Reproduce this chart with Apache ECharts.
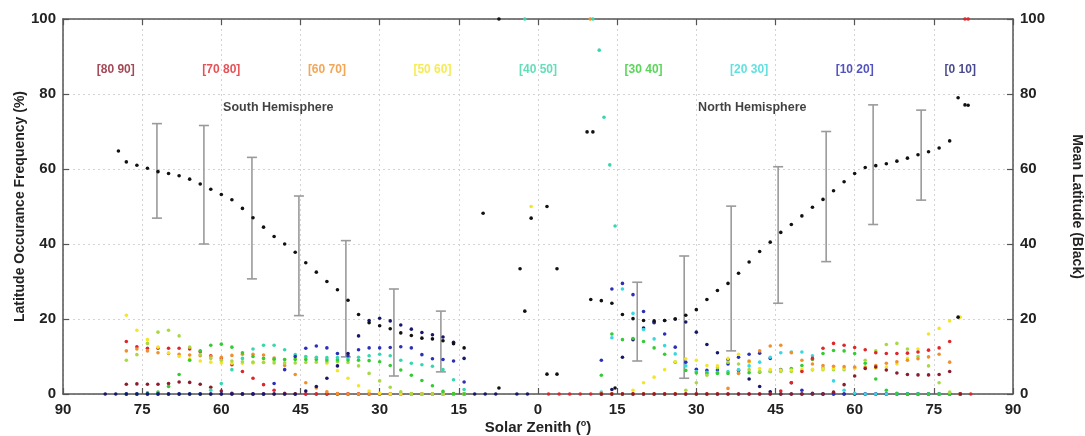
<!DOCTYPE html>
<html><head><meta charset="utf-8">
<script src="https://cdn.jsdelivr.net/npm/echarts@6/dist/echarts.min.js"></script>
<style>html,body{margin:0;padding:0;background:#fff}#c{width:1085px;height:436px}</style>
</head><body><div id="c"></div>
<script>
// ---------- DATA ----------
const xSouth = [-78,-76,-74,-72,-70,-68,-66,-64,-62,-60,-58,-56,-54,-52,-50,-48,-46,-44,-42,-40,-38,-36,-34,-32,-30,-28,-26,-24,-22,-20,-18,-16,-14];
const xNorth = [12,14,16,18,20,22,24,26,28,30,32,34,36,38,40,42,44,46,48,50,52,54,56,58,60,62,64,66,68,70,72,74,76,78,80];
const xMeanNorth = [10,12,14,16,18,20,22,24,26,28,30,32,34,36,38,40,42,44,46,48,50,52,54,56,58,60,62,64,66,68,70,72,74,76,78];

// South hemisphere occurrence frequency (%)
const darkredS = [2.6,2.7,2.6,2.6,2.8,3.2,3.1,2.6,1.8,0.8,0.2,0,0,0,0,0,0,0,0,0,0,0,0,0,0,0,0,0,0,0,0,0,0];
const redS     = [14.0,12.6,12.2,12.2,12.2,12.2,12.0,11.3,10.2,9.4,7.8,6.0,4.2,2.5,1.0,0.2,0,0,0,0,0,0,0,0,0,0,0,0,0,0,0,0,0];
const orangeS  = [11.5,12.0,11.5,11.0,10.8,10.6,10.4,10.2,10.0,9.8,10.3,10.6,10.6,10.4,9.6,7.6,5.2,3.0,1.6,0.6,0.1,0,0,0,0,0,0,0,0,0,0,0,0];
const yellowS  = [21.0,17.0,14.5,12.5,11.0,10.0,9.3,8.8,8.5,8.3,8.2,8.2,8.3,8.5,8.8,9.2,9.5,9.8,9.6,8.2,6.2,4.2,2.2,0.8,0.2,0,0,0,0,0,0,0,0];
const limeS    = [9.0,10.5,13.5,16.5,17.0,15.5,12.5,10.5,9.5,9.0,8.8,8.6,8.5,8.4,8.3,8.3,8.3,8.4,8.5,8.6,8.6,8.4,7.5,5.5,3.5,1.8,0.6,0.1,0,0,0,0,0];
const greenS   = [0,0,0.3,0.5,2.0,5.2,9.0,11.5,13.0,13.3,12.5,11.0,10.0,9.5,9.3,9.2,9.2,9.2,9.2,9.1,9.1,9.1,9.0,8.9,8.6,7.6,6.4,5.0,3.6,2.2,0.7,0.1,0];
const turqS    = [0,0,0,0,0,0,0,0,1.0,2.8,6.5,9.5,12.0,13.0,13.0,11.8,10.5,10.0,9.8,9.7,9.7,9.7,9.8,10.2,10.6,10.2,9.0,8.2,7.8,7.4,6.5,3.8,1.2];
const blueS    = [0,0,0,0,0,0,0,0,0,0,0,0,0,0,2.8,6.5,10.0,12.2,12.8,12.3,10.8,10.2,11.8,12.3,12.3,12.4,12.6,12.3,10.5,9.4,9.2,8.8,3.2];
const navyS    = [0,0,0,0,0,0,0,0,0,0,0,0,0,0,0,0,0,0.8,2.0,4.2,7.5,10.8,15.5,19.6,20.2,19.5,18.4,17.3,16.4,15.8,15.2,13.8,9.5];
const meanS    = [61.9,61.0,60.2,59.3,58.8,58.2,57.3,56.0,54.6,53.2,51.8,49.5,47.0,44.5,42.0,40.0,37.8,35.0,32.5,30.0,27.8,25.0,21.2,19.0,18.2,17.4,16.3,15.6,14.9,14.7,14.2,13.4,12.3];

// North hemisphere occurrence frequency (%)
const navyN    = [0,1.2,9.8,14.5,17.6,19.0,19.6,20.0,19.2,16.5,13.2,11.0,9.2,6.3,4.0,2.0,0.6,0,0,0,0,0,0,0,0,0,0,0,0,0,0,0,0,0,0];
const blueN    = [9.0,28.0,29.5,26.5,22.0,19.2,16.0,12.5,8.5,6.6,6.3,6.4,8.0,9.8,10.6,10.9,9.5,6.5,3.0,1.0,0.2,0,0,0,0,0,0,0,0,0,0,0,0,0,0];
const cyanN    = [0.5,15.0,28.0,21.5,17.2,14.7,12.9,10.7,7.5,6.0,5.8,5.8,6.0,6.5,7.5,8.5,9.8,11.0,11.2,11.2,10.2,7.0,3.5,1.0,0.2,0,0,0,0,0,0,0,0,0,0];
const greenN   = [5.0,16.0,14.5,14.8,14.0,12.3,10.6,8.5,6.3,5.6,5.5,5.5,5.5,5.6,5.7,5.8,6.0,6.3,6.8,7.6,9.2,10.8,11.6,11.5,10.8,8.2,4.0,1.0,0.2,0,0,0,0,0,0];
const limeN    = [0,0,0,0,0,0,0,0,1.0,3.0,5.0,7.0,8.5,8.0,6.5,6.0,6.0,6.0,6.0,6.2,6.4,6.5,6.5,6.5,7.0,9.0,11.5,13.2,13.5,12.0,10.0,7.5,3.0,0.5,0];
const yellowN  = [0,0,0,1.0,3.0,4.5,6.5,8.6,9.4,9.0,7.6,7.5,9.5,10.6,8.5,6.8,6.5,6.4,6.4,6.5,6.6,6.7,6.8,6.8,6.8,6.8,6.9,7.2,8.0,9.5,12.0,16.0,17.5,19.5,20.5];
const orangeN  = [0,0,0,0,0,0,0,0,0,0,0,0,1.5,5.5,8.8,11.5,12.8,13.0,11.0,9.0,8.0,7.6,7.4,7.3,7.2,7.2,7.6,8.2,8.6,9.0,9.4,9.9,10.6,8.5,0];
const redN     = [0,0,0,0,0,0,0,0,0,0,0,0,0,0,0,0,0,0.8,3.0,6.0,9.5,12.2,13.5,13.0,12.4,11.8,11.0,10.8,10.8,10.9,11.2,11.7,12.3,14.0,0];
const darkredN = [0,0,0,0,0,0,0,0,0,0,0,0,0,0,0,0,0,0,0,0,0,0,0.5,2.5,4.8,6.8,7.2,6.4,5.6,5.2,5.1,5.1,5.2,6.0,0];
const meanN    = [25.2,24.9,24.2,21.2,20.1,19.6,19.5,19.6,20.0,21.0,22.5,25.2,27.6,29.5,32.2,35.2,38.0,40.5,43.1,45.2,47.5,49.8,51.9,54.2,56.6,58.8,60.4,60.9,61.4,62.1,62.9,63.8,64.6,65.6,67.5];

// zero-level samples outside the main ranges
const zeroSouthX = [-82,-80,-12,-10,-8,-4,-2];
const zeroNorthX = [2,4,6,8,10,82];

// isolated points
const extraBlackX = [-79.5,-7.4,9.3,10.4,-10.4,1.7,-1.3,-3.4,3.6,-2.5,1.7,3.6,-7.4,79.6,80.9,81.5,79.6,14.6];
const extraBlackY = [64.8,100,69.9,69.9,48.2,50,46.9,33.4,33.4,22.1,5.3,5.3,1.6,79,77.1,77,20.5,1.6];
const extraCyanX  = [-2.5,10.4,11.6,12.5,13.6,14.6];
const extraCyanY  = [100,100,91.7,73.8,61.1,44.8];
const extraOrangeX = [9.9], extraOrangeY = [100];
const extraYellowX = [-1.3], extraYellowY = [50];
const extraRedX = [80.9,81.5], extraRedY = [100,100];

// error bars of mean latitude
const ebX    = [-72.2,-63.3,-54.2,-45.3,-36.4,-27.3,-18.4,18.8,27.7,36.6,45.5,54.6,63.5,72.6];
const ebLow  = [46.9,40,30.7,20.9,9.9,4.8,5.9,8.8,4.2,11.5,24.2,35.3,45.2,51.7];
const ebHigh = [72.1,71.6,63.1,52.8,40.9,28,22.1,29.8,36.8,50.1,60.6,70,77.1,75.7];

// annotation text
const bandText = ['[80 90]','[70 80]','[60 70]','[50 60]','[40 50]','[30 40]','[20 30]','[10 20]','[0 10]'];
const bandX = [-80,-60,-40,-20,0,20,40,60,80];
const bandY = 86.5;
const bandColor = ['#8c1c2c','#e0262a','#f0902c','#f2e628','#3cd6a6','#2fcc2f','#38dada','#2828b0','#1a1a70'];
const hemiText = ['South Hemisphere','North Hemisphere'];
const hemiX = [-49.2, 40.6];
const hemiY = 76.5;

// ---------- CHART ----------
const C = {darkred:'#8c1c2c', red:'#e0262a', orange:'#f0902c', yellow:'#f2e628', lime:'#a8d846',
  green:'#33cc33', turq:'#38d6b0', cyan:'#38d8e0', blue:'#2a30b8', navy:'#18186a', black:'#111'};
const FONT = "'Liberation Sans', Arial, sans-serif";
const zip = (xs, ys) => xs.map((x, i) => [x, ys[i]]);
const dots = (name, xs, ys, color, yAxisIndex) => ({
  type:'scatter', name, data: zip(xs, ys), symbol:'circle', symbolSize:3.6,
  yAxisIndex: yAxisIndex || 0, itemStyle:{color, opacity:1}, silent:true, animation:false
});

const series = [
  {type:'custom', name:'errorbars', yAxisIndex:1, silent:true, animation:false,
    data: ebX.map((x,i)=>[x, ebLow[i], ebHigh[i]]),
    renderItem:(params, api)=>{
      const x=api.value(0), lo=api.coord([x, api.value(1)]), hi=api.coord([x, api.value(2)]);
      const hw=5, st={stroke:'#9a9a9a', lineWidth:1.6};
      return {type:'group', children:[
        {type:'line', shape:{x1:lo[0],y1:lo[1],x2:hi[0],y2:hi[1]}, style:st},
        {type:'line', shape:{x1:lo[0]-hw,y1:lo[1],x2:lo[0]+hw,y2:lo[1]}, style:st},
        {type:'line', shape:{x1:hi[0]-hw,y1:hi[1],x2:hi[0]+hw,y2:hi[1]}, style:st}]};
    }},
  dots('navyN', xNorth, navyN, C.navy),
  dots('blueN', xNorth, blueN, C.blue),
  dots('cyanN', xNorth, cyanN, C.cyan),
  dots('greenN', xNorth, greenN, C.green),
  dots('limeN', xNorth, limeN, C.lime),
  dots('yellowN', xNorth, yellowN, C.yellow),
  dots('orangeN', xNorth, orangeN, C.orange),
  dots('redN', xNorth, redN, C.red),
  dots('darkredN', xNorth, darkredN, C.darkred),
  dots('zeroN', zeroNorthX, zeroNorthX.map(()=>0), C.red),
  dots('darkredS', xSouth, darkredS, C.darkred),
  dots('redS', xSouth, redS, C.red),
  dots('orangeS', xSouth, orangeS, C.orange),
  dots('yellowS', xSouth, yellowS, C.yellow),
  dots('limeS', xSouth, limeS, C.lime),
  dots('greenS', xSouth, greenS, C.green),
  dots('turqS', xSouth, turqS, C.turq),
  dots('blueS', xSouth, blueS, C.blue),
  dots('navyS', xSouth, navyS, C.navy),
  dots('zeroS', zeroSouthX, zeroSouthX.map(()=>0), C.navy),
  dots('extraCyan', extraCyanX, extraCyanY, C.turq),
  dots('extraOrange', extraOrangeX, extraOrangeY, C.orange),
  dots('extraYellow', extraYellowX, extraYellowY, C.yellow),
  dots('extraRed', extraRedX, extraRedY, C.red),
  dots('extraBlack', extraBlackX, extraBlackY, C.black, 1),
  dots('meanS', xSouth, meanS, C.black, 1),
  dots('meanN', xMeanNorth, meanN, C.black, 1),
  {type:'scatter', name:'bands', symbolSize:0, silent:true, animation:false, z:5,
    data: bandText.map((t,i)=>({name:t, value:[bandX[i], bandY], label:{color:bandColor[i]}})),
    label:{show:true, position:'inside', formatter:p=>p.name, fontFamily:FONT, fontSize:12, fontWeight:'bold'}},
  {type:'scatter', name:'hemis', symbolSize:0, silent:true, animation:false, z:5,
    data: hemiText.map((t,i)=>({name:t, value:[hemiX[i], hemiY]})),
    label:{show:true, position:'inside', formatter:p=>p.name, color:'#111', fontFamily:FONT, fontSize:12.5, fontWeight:'bold'}}
];

const axisLine = {show:true, onZero:false, lineStyle:{color:'#555', width:1.5}};
const tickIn = {show:true, inside:true, length:6, lineStyle:{color:'#555', width:1.2}};
const split = {show:true, lineStyle:{color:'#d4d4d4', type:[2,3], width:1}};
const labelStyle = {fontFamily:FONT, fontSize:15, fontWeight:'bold', color:'#222'};

const option = {
  backgroundColor:'#fff',
  animation:false,
  grid:{left:63, right:72, top:19, bottom:42, containLabel:false, outerBoundsMode:'none'},
  xAxis:[
    {type:'value', min:-90, max:90, interval:15, position:'bottom',
      axisLine, axisTick:tickIn, splitLine:split,
      axisLabel:Object.assign({margin:8, formatter:v=>String(Math.abs(v))}, labelStyle),
      name:'Solar Zenith ({sup|o})', nameLocation:'middle', nameGap:25, nameMoveOverlap:false,
      nameTextStyle:{fontFamily:FONT, fontSize:15, fontWeight:'bold', color:'#222',
        rich:{sup:{fontFamily:FONT, fontSize:9, fontWeight:'bold', color:'#222', padding:[0,0,9,0]}}}},
    {type:'value', min:-90, max:90, interval:15, position:'top',
      axisLine, axisTick:tickIn, splitLine:{show:false}, axisLabel:{show:false}}
  ],
  yAxis:[
    {type:'value', min:0, max:100, interval:20, position:'left',
      axisLine, axisTick:tickIn, splitLine:split,
      axisLabel:Object.assign({margin:7}, labelStyle),
      name:'Latitude Occurance Frequency (%)', nameLocation:'middle', nameGap:36, nameRotate:90, nameMoveOverlap:false,
      nameTextStyle:{fontFamily:FONT, fontSize:14, fontWeight:'bold', color:'#222'}},
    {type:'value', min:0, max:100, interval:20, position:'right',
      axisLine, axisTick:tickIn, splitLine:{show:false},
      axisLabel:Object.assign({margin:7}, labelStyle),
      name:'Mean Latitude (Black)', nameLocation:'middle', nameGap:57, nameRotate:-90, nameMoveOverlap:false,
      nameTextStyle:{fontFamily:FONT, fontSize:14, fontWeight:'bold', color:'#222'}}
  ],
  series
};
const chart = echarts.init(document.getElementById('c'), null, {renderer:'canvas'});
chart.setOption(option);
</script></body></html>
